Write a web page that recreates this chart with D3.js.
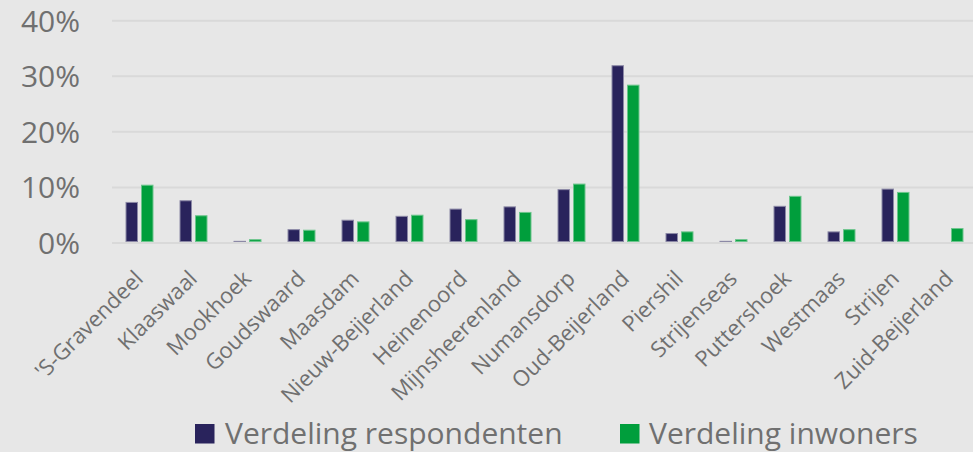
<!DOCTYPE html>
<html>
<head>
<meta charset="utf-8">
<script src="https://cdn.jsdelivr.net/npm/d3@7"></script>
<style>
  html, body { margin: 0; padding: 0; background: #e7e7e7; }
  svg { display: block; }
</style>
</head>
<body>
<svg id="chart" width="973" height="452"></svg>
<script>
const categories = ["'S-Gravendeel", "Klaaswaal", "Mookhoek", "Goudswaard", "Maasdam", "Nieuw-Beijerland",
  "Heinenoord", "Mijnsheerenland", "Numansdorp", "Oud-Beijerland", "Piershil", "Strijenseas",
  "Puttershoek", "Westmaas", "Strijen", "Zuid-Beijerland"];
const seriesNames = ["Verdeling respondenten", "Verdeling inwoners"];
const respondenten = [7.3, 7.6, 0.3, 2.4, 4.1, 4.8, 6.1, 6.5, 9.6, 31.9, 1.7, 0.3, 6.6, 2.0, 9.7, 0.0];
const inwoners     = [10.4, 4.9, 0.6, 2.3, 3.8, 5.0, 4.2, 5.5, 10.6, 28.4, 2.0, 0.6, 8.4, 2.4, 9.1, 2.6];
const yTicks = [0, 10, 20, 30, 40];
const colors = ["#29235c", "#009e3c"];
const strokes = ["#8c89a6", "#6cc58c"];

const svg = d3.select("#chart");
const textColor = "#707070";
const font = "'Open Sans', sans-serif";

const x0 = d3.scaleBand().domain(categories).range([112.5, 976.5]).paddingInner(0).paddingOuter(0);
const x1 = d3.scaleBand().domain(seriesNames).range([13, 41]).paddingInner(3 / 15.5).paddingOuter(0);
const y = d3.scaleLinear().domain([0, 40]).range([243, 20.7]);

// gridlines
svg.append("g").selectAll("line").data(yTicks).join("line")
  .attr("x1", 112).attr("x2", 973)
  .attr("y1", d => y(d)).attr("y2", d => y(d))
  .attr("stroke", "#d9d9d9").attr("stroke-width", 2);

// y axis labels via d3 axis
const yAxis = svg.append("g").attr("transform", "translate(80,0)")
  .call(d3.axisLeft(y).tickValues(yTicks).tickFormat(d => d + "%").tickSize(0).tickPadding(0));
yAxis.select(".domain").remove();
yAxis.selectAll("text").attr("fill", textColor).style("font-family", font).style("font-size", "30px")
  .attr("dy", "0.35em");

// bars
const data = categories.map((c, i) => ({ cat: c, vals: [
  { s: seriesNames[0], v: respondenten[i], k: 0 },
  { s: seriesNames[1], v: inwoners[i], k: 1 }] }));

const groups = svg.append("g").selectAll("g").data(data).join("g")
  .attr("transform", d => `translate(${x0(d.cat)},0)`);
groups.selectAll("rect").data(d => d.vals.filter(e => e.v > 0)).join("rect")
  .attr("x", d => x1(d.s) + 0.5)
  .attr("width", x1.bandwidth() - 1)
  .attr("y", d => y(d.v))
  .attr("height", d => Math.max(0, y(0) - 1.5 - y(d.v)))
  .attr("fill", d => colors[d.k])
  .attr("stroke", d => strokes[d.k])
  .attr("stroke-width", 1);

// x labels, rotated -45 degrees
const c45 = Math.SQRT1_2;
const xAxis = svg.append("g");
xAxis.selectAll("text").data(categories).join("text")
  .attr("transform", d => `matrix(${c45},${-c45},${c45},${c45},${x0(d) + x0.bandwidth() / 2 + 5},280)`)
  .attr("x", 0).attr("y", 0)
  .attr("text-anchor", "end")
  .attr("fill", textColor)
  .style("font-family", font)
  .style("font-size", "22px")
  .text(d => d);

// legend
const legendPos = [{ sx: 195, tx: 225 }, { sx: 620, tx: 649 }];
const legend = svg.append("g").selectAll("g").data(seriesNames).join("g");
legend.append("rect")
  .attr("x", (d, i) => legendPos[i].sx).attr("y", 424)
  .attr("width", 19.5).attr("height", 19.5)
  .attr("fill", (d, i) => colors[i]);
legend.append("text")
  .attr("x", (d, i) => legendPos[i].tx).attr("y", 443.5)
  .attr("fill", textColor)
  .style("font-family", font).style("font-size", "30px")
  .text(d => d);
</script>
</body>
</html>
